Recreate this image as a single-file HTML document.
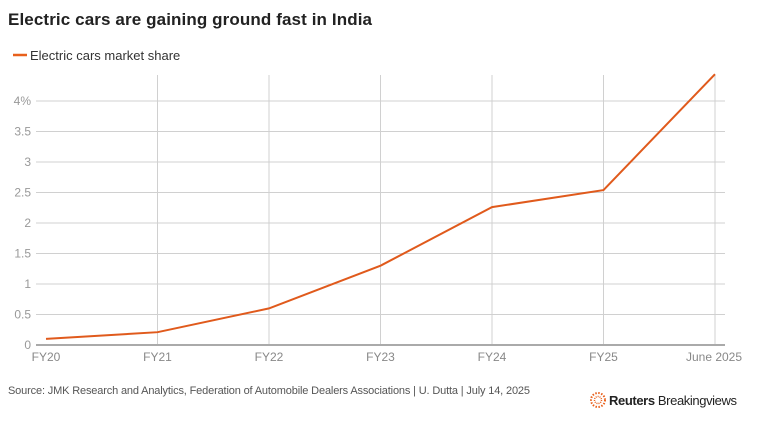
<!DOCTYPE html>
<html><head><meta charset="utf-8"><style>
body{margin:0;background:#fff;font-family:"Liberation Sans",sans-serif;}
svg text{font-family:"Liberation Sans",sans-serif;}
</style></head><body>
<svg width="761" height="419" xmlns="http://www.w3.org/2000/svg" id="chart">
<text x="8" y="25" font-size="17" font-weight="bold" fill="#222" textLength="364">Electric cars are gaining ground fast in India</text>
<g>
<line x1="13" y1="55" x2="27" y2="55" stroke="#e8601c" stroke-width="2.5"/>
<text x="30" y="60" font-size="13" fill="#333">Electric cars market share</text>
</g>
<g id="grid"></g>
<g id="yticks"></g>
<g id="xticks"></g>
<path id="line" fill="none" stroke="#e05a1c" stroke-width="2"/>
<text x="8" y="394" font-size="11" fill="#555" textLength="522">Source: JMK Research and Analytics, Federation of Automobile Dealers Associations | U. Dutta | July 14, 2025</text>
<g>
<circle cx="598" cy="400" r="7" fill="none" stroke="#e8601c" stroke-width="2" stroke-dasharray="1.5 1.5"/>
<circle cx="598" cy="400" r="3.5" fill="none" stroke="#e8601c" stroke-width="1.5" stroke-dasharray="1 1"/>
<text x="609" y="405" font-size="13" fill="#222" textLength="128"><tspan font-weight="bold">Reuters</tspan> Breakingviews</text>
</g>
</svg>
<script>
const categories=["FY20","FY21","FY22","FY23","FY24","FY25","June 2025"];
const shareValues=[0.1,0.21,0.6,1.3,2.26,2.54,4.44];
const yTicks=[0,0.5,1,1.5,2,2.5,3,3.5,4];
const yTickLabels=["0","0.5","1","1.5","2","2.5","3","3.5","4%"];
const NS="http://www.w3.org/2000/svg";
const x0=46,x1=715,y0=345,yTop=101;
function xs(i){return x0+(x1-x0)*i/(categories.length-1);}
function ys(v){return y0-(y0-yTop)*v/4;}
const grid=document.getElementById('grid'),yt=document.getElementById('yticks'),xt=document.getElementById('xticks');
function mk(tag,attrs,parent){const e=document.createElementNS(NS,tag);for(const k in attrs)e.setAttribute(k,attrs[k]);parent.appendChild(e);return e;}
yTicks.forEach((v,i)=>{
 if(v>0){const l=mk('line',{x1:36,x2:725,y1:ys(v),y2:ys(v),stroke:'#d0d0d0','stroke-width':1},grid);
 
 }
 const t=mk('text',{x:31,y:ys(v)+4,'text-anchor':'end','font-size':12,fill:'#999'},yt);
 t.textContent=yTickLabels[i];
 
 
});
categories.forEach((c,i)=>{
 if(i>0){const l=mk('line',{x1:xs(i),x2:xs(i),y1:75,y2:y0,stroke:'#d0d0d0','stroke-width':1},grid);
 
 }
 const t=mk('text',{x:xs(i),y:361,'text-anchor':'middle','font-size':12,fill:'#888'},xt);
 if(i==categories.length-1){t.setAttribute('x',xs(i)-1);}
 t.textContent=c;
 
 
});
const ax=mk('line',{x1:36,x2:725,y1:y0,y2:y0,stroke:'#aaa','stroke-width':2},xt);


document.getElementById('line').setAttribute('d',shareValues.map((v,i)=>(i?'L':'M')+xs(i)+','+ys(v)).join(' '));
</script>
</body></html>
